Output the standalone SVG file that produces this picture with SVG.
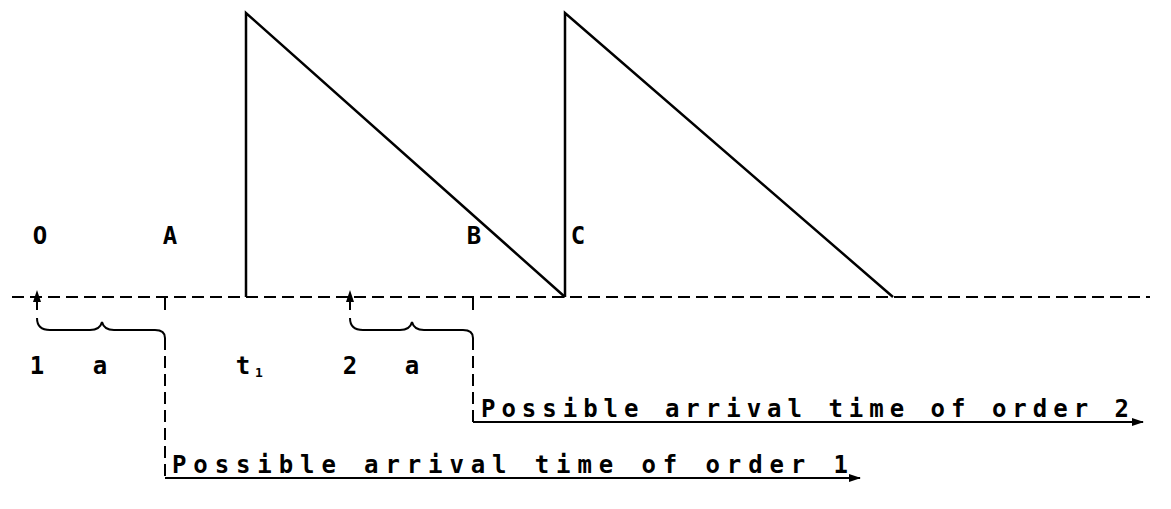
<svg xmlns="http://www.w3.org/2000/svg" width="1171" height="509" viewBox="0 0 1171 509">
<defs>
<style>
.t{font-family:"DejaVu Sans Mono","Liberation Mono",monospace;font-size:24px;font-weight:bold;fill:#000}
.dash{stroke:#000;stroke-width:2;stroke-dasharray:12,6;fill:none}
.solid{stroke:#000;stroke-width:2.5;fill:none}
.thin{stroke:#000;stroke-width:2;fill:none}
.head{fill:#000}
</style>
<marker id="ah" markerWidth="12" markerHeight="8" refX="11" refY="4" orient="auto" markerUnits="userSpaceOnUse">
<path d="M0,0 L12,4 L0,8 Z" fill="#000"/>
</marker>
</defs>
<rect width="1171" height="509" fill="#fff"/>
<g id="axis">
<line class="dash" x1="12" y1="297" x2="1150" y2="297"/>
</g>
<g id="sawtooth1">
<path class="solid" d="M246,297 L246,13 L565,297"/>
</g>
<g id="sawtooth2">
<path class="solid" d="M565,297 L565,13 L893,297"/>
</g>
<g id="labels">
<text class="t" x="40" y="244" text-anchor="middle">O</text>
<text class="t" x="170" y="244" text-anchor="middle">A</text>
<text class="t" x="474" y="244" text-anchor="middle">B</text>
<text class="t" x="578" y="244" text-anchor="middle">C</text>
<text class="t" x="37" y="374" text-anchor="middle">1</text>
<text class="t" x="100" y="374" text-anchor="middle">a</text>
<text class="t" x="243" y="374" text-anchor="middle">t</text>
<text class="t" x="259" y="377" text-anchor="middle" style="font-size:13px">1</text>
<text class="t" x="350" y="374" text-anchor="middle">2</text>
<text class="t" x="412" y="374" text-anchor="middle">a</text>
</g>
<g id="connectors">
<line class="thin" x1="37" y1="310" x2="37" y2="298"/>
<path class="head" d="M33,302 L37,290 L41,302 Z"/>
<line class="thin" x1="350" y1="310" x2="350" y2="298"/>
<path class="head" d="M346,302 L350,290 L354,302 Z"/>
<path class="thin" d="M37,318 Q37,330 50,330 L90,330 Q100,330 102,322 Q104,330 114,330 L155,330 Q165,330 165,338"/>
<path class="thin" d="M350,318 Q350,330 363,330 L400,330 Q410,330 412,322 Q414,330 424,330 L463,330 Q473,330 473,338"/>
<line class="thin" x1="165" y1="297" x2="165" y2="310"/>
<line class="thin" x1="473" y1="297" x2="473" y2="310"/>
<line class="dash" x1="165" y1="338" x2="165" y2="478"/>
<line class="dash" x1="473" y1="338" x2="473" y2="422"/>
<path class="thin" d="M473,422 L1143,422" marker-end="url(#ah)"/>
<path class="thin" d="M165,478 L860,478" marker-end="url(#ah)"/>
</g>
<g id="captions">
<text class="t" x="481" y="417" textLength="648" lengthAdjust="spacing">Possible arrival time of order 2</text>
<text class="t" x="172" y="473" textLength="676" lengthAdjust="spacing">Possible arrival time of order 1</text>
</g>
</svg>
